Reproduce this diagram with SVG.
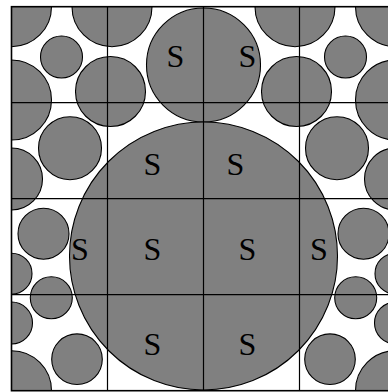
<svg xmlns="http://www.w3.org/2000/svg" width="388" height="392" viewBox="0 0 388 392">
<style>
.p{fill:#808080;stroke:#000;stroke-width:1.1}
.g{stroke:#000;stroke-width:1.2;fill:none}
.s{font-family:"Liberation Serif","Times New Roman",serif;font-size:32px;fill:#000;text-anchor:middle}
</style>
<defs>
<clipPath id="box"><rect x="11.5" y="6.7" width="384" height="384"/></clipPath>
</defs>
<rect width="388" height="392" fill="#fff"/>
<g id="particles" clip-path="url(#box)">
<circle class="p" cx="11.5" cy="6.7" r="40"/>
<circle class="p" cx="395.5" cy="6.7" r="40"/>
<circle class="p" cx="11.5" cy="390.7" r="40"/>
<circle class="p" cx="395.5" cy="390.7" r="40"/>
<circle class="p" cx="112" cy="6.7" r="40"/>
<circle class="p" cx="295" cy="6.7" r="40"/>
<circle class="p" cx="61.5" cy="57" r="21"/>
<circle class="p" cx="345.5" cy="57" r="21"/>
<circle class="p" cx="110.5" cy="91.5" r="35"/>
<circle class="p" cx="296.5" cy="91.5" r="35"/>
<circle class="p" cx="11.5" cy="100" r="40"/>
<circle class="p" cx="395.5" cy="100" r="40"/>
<circle class="p" cx="70" cy="148.2" r="31.5"/>
<circle class="p" cx="337" cy="148.2" r="31.5"/>
<circle class="p" cx="11.5" cy="179" r="31"/>
<circle class="p" cx="395.5" cy="179" r="31"/>
<circle class="p" cx="43.5" cy="233.7" r="25.5"/>
<circle class="p" cx="363.5" cy="233.7" r="25.5"/>
<circle class="p" cx="11.5" cy="273.7" r="20.5"/>
<circle class="p" cx="395.5" cy="273.7" r="20.5"/>
<circle class="p" cx="51.3" cy="297.8" r="21"/>
<circle class="p" cx="355.7" cy="297.8" r="21"/>
<circle class="p" cx="11.5" cy="323" r="21"/>
<circle class="p" cx="395.5" cy="323" r="21"/>
<circle class="p" cx="77" cy="359.2" r="25.3"/>
<circle class="p" cx="330" cy="359.2" r="25.3"/>
<g id="top-cluster"><circle class="p" cx="203.5" cy="65" r="57"/></g>
<g id="bottom-cluster"><circle class="p" cx="203.5" cy="256" r="134"/></g>
</g>
<g id="grid">
<path class="g" d="M107.5 6.7V390.7M203.5 6.7V390.7M299.5 6.7V390.7M11.5 102.7H395.5M11.5 198.7H395.5M11.5 294.7H395.5"/>
<rect x="11.5" y="6.7" width="384" height="384" fill="none" stroke="#000" stroke-width="1.6"/>
</g>
<g id="labels">
<text class="s" x="175.5" y="66.5">S</text>
<text class="s" x="247.5" y="66.5">S</text>
<text class="s" x="152.5" y="175">S</text>
<text class="s" x="235.5" y="175">S</text>
<text class="s" x="80" y="260">S</text>
<text class="s" x="152.5" y="260">S</text>
<text class="s" x="247.5" y="260">S</text>
<text class="s" x="319" y="260">S</text>
<text class="s" x="152.5" y="355">S</text>
<text class="s" x="247.5" y="355">S</text>
</g>
</svg>
